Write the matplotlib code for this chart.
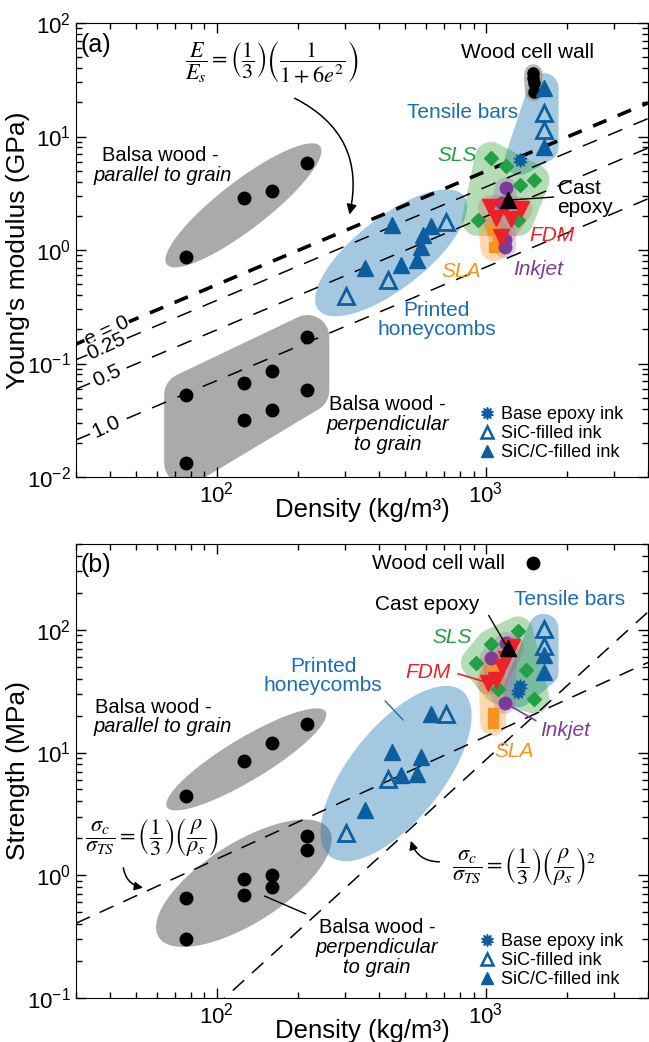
import numpy as np
import matplotlib
matplotlib.use("Agg")
import matplotlib.pyplot as plt
from matplotlib.lines import Line2D
from matplotlib.patches import Polygon
from matplotlib.ticker import NullFormatter

plt.rcParams['font.family'] = ['Liberation Sans', 'DejaVu Sans']

# ---------------- panel (a): Young's modulus (GPa) vs density (kg/m3)
balsa_rho = [77, 126, 160, 217]
balsa_par_E = [0.87, 2.9, 3.3, 5.9]
balsa_perp_rho = [77, 77, 126, 126, 160, 160, 217, 217]
balsa_perp_E = [0.053, 0.0133, 0.067, 0.032, 0.086, 0.039, 0.171, 0.058]
hc_open_rho = [302, 431, 712]
hc_open_E = [0.39, 0.54, 1.76]
hc_fill_rho = [355, 447, 485, 556, 575, 586, 627]
hc_fill_E = [0.69, 1.66, 0.74, 0.82, 1.06, 1.36, 1.63]
tb_open_rho = [1637, 1637]
tb_open_E = [16.1, 11.4]
tb_fill_rho = [1637, 1637]
tb_fill_E = [26.7, 8.07]
tb_base_rho = [1334]
tb_base_E = [6.2]
wood_rho = [1500, 1495, 1503, 1510]
wood_E = [36, 32.5, 29.6, 24.6]
sls_rho = [1043, 1186, 1503, 1334, 933, 1313]
sls_E = [6.47, 5.5, 4.14, 3.74, 1.84, 1.84]
fdm_rho = [1035, 1175, 1345, 1089, 1236, 1135]
fdm_E = [2.39, 2.39, 2.3, 1.92, 1.88, 1.30]
ink_rho = [1186, 1150, 1175, 1175]
ink_E = [3.5, 2.6, 1.22, 1.06]
sla_rho = [1062, 1075, 1110]
sla_E = [1.5, 1.06, 1.3]
cast_rho = [1205]
cast_E = [2.75]

e_values = [0, 0.25, 0.5, 1.0]
e_labels = ['e = 0', '0.25', '0.5', '1.0']
Es, rho_s = 23.0, 1550.0

# ---------------- panel (b): strength (MPa) vs density (kg/m3)
balsa_par_S = [4.4, 8.6, 12, 17.1]
balsa_perp_S = [0.65, 0.30, 0.94, 0.69, 1.0, 0.80, 2.08, 1.6]
hc_open_S = [2.2, 6.1, 20.6]
hcb_fill_rho = [355, 447, 485, 556, 575, 627]
hcb_fill_S = [3.4, 10.1, 6.6, 6.7, 9.2, 20.6]
tb_open_S = [102, 74]
tb_fill_S = [62.5, 45.5]
tbb_base_rho = [1334, 1320]
tbb_base_S = [35, 31]
woodb_rho = [1500]
woodb_S = [352]
slsb_rho = [1313, 1043, 918, 1405, 1515, 1110]
slsb_S = [97, 76, 54, 47, 27.5, 33]
fdmb_rho = [1190, 1090, 1020, 1250, 1150]
fdmb_S = [58, 39, 37, 72, 50]
inkb_rho = [1186, 1043, 1175]
inkb_S = [78, 59, 25.4]
slab_rho = [1050, 1060, 1065]
slab_S = [50, 21, 17.4]
castb_S = [71]
sigma_ts = 63.0

BLUE = '#0d5e9f'
TBLUE = '#1b6db3'
GREEN = '#22a046'
RED = '#ec2227'
PURPLE = '#7b3c97'
ORANGE = '#f7941d'
GRAY = '#aaaaaa'


def convex_hull(p):
    p = sorted(map(tuple, p))

    def cross(o, a, b):
        return (a[0] - o[0]) * (b[1] - o[1]) - (a[1] - o[1]) * (b[0] - o[0])
    lower, upper = [], []
    for q in p:
        while len(lower) >= 2 and cross(lower[-2], lower[-1], q) <= 0:
            lower.pop()
        lower.append(q)
    for q in reversed(p):
        while len(upper) >= 2 and cross(upper[-2], upper[-1], q) <= 0:
            upper.pop()
        upper.append(q)
    return np.array(lower[:-1] + upper[:-1])


def region(ax, xs, ys, pad, color, alpha, z=1):
    # rounded hull around a group of points, padded in pixels
    pts = ax.transData.transform(np.column_stack([xs, ys]))
    t = np.linspace(0, 2 * np.pi, 48, endpoint=False)
    circ = np.column_stack([np.cos(t), np.sin(t)]) * pad
    allp = (pts[:, None, :] + circ[None, :, :]).reshape(-1, 2)
    verts = ax.transData.inverted().transform(convex_hull(allp))
    ax.add_patch(Polygon(verts, closed=True, fc=color, ec='none', alpha=alpha, zorder=z))


def ellipse_region(ax, xs, ys, pad_a, pad_b, color, alpha, z=1):
    # ellipse along the principal direction of a group, padded in pixels
    pts = ax.transData.transform(np.column_stack([xs, ys]))
    c = pts.mean(axis=0)
    _, vec = np.linalg.eigh(np.cov((pts - c).T))
    v1, v2 = vec[:, 1], vec[:, 0]
    p1, p2 = (pts - c) @ v1, (pts - c) @ v2
    cen = c + v1 * (p1.min() + p1.max()) / 2 + v2 * (p2.min() + p2.max()) / 2
    a = (p1.max() - p1.min()) / 2 + pad_a
    b = (p2.max() - p2.min()) / 2 + pad_b
    t = np.linspace(0, 2 * np.pi, 120)
    ell = cen + np.outer(a * np.cos(t), v1) + np.outer(b * np.sin(t), v2)
    verts = ax.transData.inverted().transform(ell)
    ax.add_patch(Polygon(verts, closed=True, fc=color, ec='none', alpha=alpha, zorder=z))


def style_axes(ax, ylim, ylabel):
    ax.set_xscale('log')
    ax.set_yscale('log')
    ax.set_xlim(30, 4000)
    ax.set_ylim(*ylim)
    ax.tick_params(which='both', direction='in', top=True, right=True, labelsize=16, width=1)
    ax.tick_params(which='major', length=7)
    ax.tick_params(which='minor', length=4)
    ax.xaxis.set_minor_formatter(NullFormatter())
    ax.yaxis.set_minor_formatter(NullFormatter())
    ax.set_xlabel('Density (kg/m³)', fontsize=18.5, labelpad=-7)
    ax.set_ylabel(ylabel, fontsize=19, labelpad=-2)


def legend(ax, anchor):
    h = [Line2D([], [], ls='none', marker=(10, 1, 0), ms=9, color=BLUE),
         Line2D([], [], ls='none', marker='^', ms=9, mfc='none', mec=BLUE, mew=1.8),
         Line2D([], [], ls='none', marker='^', ms=9, color=BLUE)]
    ax.legend(h, ['Base epoxy ink', 'SiC-filled ink', 'SiC/C-filled ink'], loc='lower left',
              bbox_to_anchor=anchor, frameon=False, fontsize=13, handlelength=0.8,
              handletextpad=0.4, labelspacing=0.1, borderaxespad=0, borderpad=0)


fig = plt.figure(figsize=(6.49, 10.42), dpi=100)
ax = fig.add_axes([76 / 649, 1 - 477 / 1042, 572 / 649, 454 / 1042])
bx = fig.add_axes([76 / 649, 1 - 998 / 1042, 572 / 649, 454 / 1042])

# ======================= panel (a)
style_axes(ax, (0.01, 100), "Young's modulus (GPa)")

ellipse_region(ax, balsa_rho, balsa_par_E, 20, 18, GRAY, 1)
region(ax, balsa_perp_rho, balsa_perp_E, 22, GRAY, 1)
ellipse_region(ax, hc_open_rho + hc_fill_rho, hc_open_E + hc_fill_E, 30, 14, '#1f77b4', 0.4)
region(ax, tb_open_rho + tb_fill_rho + tb_base_rho, tb_open_E + tb_fill_E + tb_base_E, 15, '#1f77b4', 0.4)
region(ax, wood_rho, wood_E, 9, '#888888', 0.6)
region(ax, sls_rho, sls_E, 16, '#2ca02c', 0.35)
region(ax, sla_rho, sla_E, 14, ORANGE, 0.35)
region(ax, fdm_rho, fdm_E, 12, RED, 0.2)
region(ax, ink_rho, ink_E, 11, '#9467bd', 0.3)

rho_line = np.array([30, 4000])
for e, lab in zip(e_values, e_labels):
    E_line = Es / 3 * (rho_line / rho_s) / (1 + 6 * e ** 2)
    if e == 0:
        ax.plot(rho_line, E_line, color='k', lw=2.6, dashes=(4, 3.4), zorder=2)
    else:
        ax.plot(rho_line, E_line, color='k', lw=1.1, dashes=(10, 8), zorder=2)
    ax.text(39, Es / 3 * (39 / rho_s) / (1 + 6 * e ** 2), lab, fontsize=15, rotation=25,
            ha='center', va='center', zorder=4,
            bbox=dict(fc='white', ec='none', pad=0.5))

ax.plot(balsa_rho, balsa_par_E, 'o', color='k', ms=9, zorder=5)
ax.plot(balsa_perp_rho, balsa_perp_E, 'o', color='k', ms=9, zorder=5)
ax.plot(wood_rho, wood_E, 'o', color='k', ms=8, zorder=5)
ax.plot(sls_rho, sls_E, 'D', color=GREEN, ms=7.5, zorder=5)
ax.plot(sla_rho, sla_E, 's', color=ORANGE, ms=7, zorder=5)
ax.plot(ink_rho, ink_E, 'o', color=PURPLE, ms=9, zorder=5)
ax.plot(fdm_rho, fdm_E, 'v', color=RED, ms=11, zorder=6)
ax.plot(hc_fill_rho, hc_fill_E, '^', color=BLUE, ms=11, zorder=5)
ax.plot(hc_open_rho, hc_open_E, '^', mfc='none', mec=BLUE, mew=2, ms=11, zorder=5)
ax.plot(tb_fill_rho, tb_fill_E, '^', color=BLUE, ms=11, zorder=5)
ax.plot(tb_open_rho, tb_open_E, '^', mfc='none', mec=BLUE, mew=2, ms=11, zorder=5)
ax.plot(tb_base_rho, tb_base_E, marker=(10, 1, 0), ls='none', color=BLUE, ms=10, zorder=5)
ax.plot(cast_rho, cast_E, '^', color='k', ms=11, zorder=7)

T = ax.transAxes
ax.text(0.007, 0.952, '(a)', transform=T, fontsize=18, ha='left', va='center')
ax.text(0.79, 0.936, 'Wood cell wall', transform=T, fontsize=15, ha='center', va='center')
ax.text(0.675, 0.802, 'Tensile bars', transform=T, fontsize=15, ha='center', va='center', color=TBLUE)
ax.text(0.666, 0.709, 'SLS', transform=T, fontsize=15, ha='center', va='center', color=GREEN, style='italic')
ax.text(0.842, 0.615, 'Cast\nepoxy', transform=T, fontsize=15, ha='left', va='center', linespacing=1.0)
ax.annotate('', xy=(cast_rho[0], cast_E[0]), xytext=(0.84, 0.617), textcoords='axes fraction',
            arrowprops=dict(arrowstyle='-', lw=1, color='k'), zorder=7)
ax.text(0.832, 0.531, 'FDM', transform=T, fontsize=15, ha='center', va='center', color=RED, style='italic')
ax.text(0.673, 0.452, 'SLA', transform=T, fontsize=15, ha='center', va='center', color=ORANGE, style='italic')
ax.text(0.808, 0.458, 'Inkjet', transform=T, fontsize=15, ha='center', va='center', color=PURPLE, style='italic')
ax.text(0.631, 0.346, 'Printed\nhoneycombs', transform=T, fontsize=15, ha='center', va='center',
        color=TBLUE, linespacing=1.05)
ax.text(0.147, 0.709, 'Balsa wood -', transform=T, fontsize=14.5, ha='center', va='center')
ax.text(0.152, 0.665, 'parallel to grain', transform=T, fontsize=14.5, ha='center', va='center', style='italic')
ax.text(0.545, 0.159, 'Balsa wood -', transform=T, fontsize=14.5, ha='center', va='center')
ax.text(0.545, 0.115, 'perpendicular', transform=T, fontsize=14.5, ha='center', va='center', style='italic')
ax.text(0.545, 0.071, 'to grain', transform=T, fontsize=14.5, ha='center', va='center', style='italic')
ax.text(0.343, 0.914, r'$\dfrac{E}{E_s}=\left(\dfrac{1}{3}\right)\left(\dfrac{1}{1+6e^2}\right)$',
        transform=T, fontsize=16, ha='center', va='center', math_fontfamily='stix')
ax.annotate('', xy=(0.477, 0.572), xytext=(0.378, 0.837), xycoords='axes fraction',
            textcoords='axes fraction',
            arrowprops=dict(arrowstyle='-|>,head_length=0.6,head_width=0.3', lw=1.1, color='k',
                            connectionstyle='arc3,rad=-0.4'))
legend(ax, (0.706, 0.035))

# ======================= panel (b)
style_axes(bx, (0.1, 500), 'Strength (MPa)')

ellipse_region(bx, balsa_rho, balsa_par_S, 22, 20, GRAY, 1)
ellipse_region(bx, balsa_perp_rho, balsa_perp_S, 22, 22, GRAY, 1)
ellipse_region(bx, hc_open_rho + hcb_fill_rho, hc_open_S + hcb_fill_S, 28, 30, '#1f77b4', 0.4)
region(bx, tb_open_rho + tb_fill_rho + tbb_base_rho, tb_open_S + tb_fill_S + tbb_base_S, 15, '#1f77b4', 0.4)
region(bx, slsb_rho, slsb_S, 15, '#2ca02c', 0.35)
region(bx, slab_rho, slab_S, 13, ORANGE, 0.35)
region(bx, fdmb_rho, fdmb_S, 12, RED, 0.2)
region(bx, inkb_rho, inkb_S, 11, '#9467bd', 0.3)

for n in (1, 2):
    bx.plot(rho_line, sigma_ts / 3 * (rho_line / rho_s) ** n, color='k', lw=1.1,
            dashes=(10, 7), zorder=2)

bx.plot(balsa_rho, balsa_par_S, 'o', color='k', ms=9, zorder=5)
bx.plot(balsa_perp_rho, balsa_perp_S, 'o', color='k', ms=9, zorder=5)
bx.plot(woodb_rho, woodb_S, 'o', color='k', ms=9, zorder=5)
bx.plot(slsb_rho, slsb_S, 'D', color=GREEN, ms=7.5, zorder=5)
bx.plot(slab_rho, slab_S, 's', color=ORANGE, ms=7, zorder=5)
bx.plot(inkb_rho, inkb_S, 'o', color=PURPLE, ms=9, zorder=5)
bx.plot(fdmb_rho, fdmb_S, 'v', color=RED, ms=11, zorder=6)
bx.plot(hcb_fill_rho, hcb_fill_S, '^', color=BLUE, ms=11, zorder=5)
bx.plot(hc_open_rho, hc_open_S, '^', mfc='none', mec=BLUE, mew=2, ms=11, zorder=5)
bx.plot(tb_fill_rho, tb_fill_S, '^', color=BLUE, ms=11, zorder=5)
bx.plot(tb_open_rho, tb_open_S, '^', mfc='none', mec=BLUE, mew=2, ms=11, zorder=5)
bx.plot(tbb_base_rho, tbb_base_S, marker=(10, 1, 0), ls='none', color=BLUE, ms=10, zorder=5)
bx.plot(cast_rho, castb_S, '^', color='k', ms=11, zorder=7)

T = bx.transAxes
bx.text(0.007, 0.954, '(b)', transform=T, fontsize=18, ha='left', va='center')
bx.text(0.75, 0.958, 'Wood cell wall', transform=T, fontsize=15, ha='right', va='center')
bx.text(0.614, 0.866, 'Cast epoxy', transform=T, fontsize=15, ha='center', va='center')
bx.annotate('', xy=(cast_rho[0], castb_S[0]), xytext=(0.719, 0.848), textcoords='axes fraction',
            arrowprops=dict(arrowstyle='-', lw=1, color='k'), zorder=7)
bx.text(0.862, 0.877, 'Tensile bars', transform=T, fontsize=15, ha='center', va='center', color=TBLUE)
bx.text(0.657, 0.795, 'SLS', transform=T, fontsize=15, ha='center', va='center', color=GREEN, style='italic')
bx.text(0.615, 0.718, 'FDM', transform=T, fontsize=15, ha='center', va='center', color=RED, style='italic')
bx.annotate('', xy=(fdmb_rho[2], fdmb_S[2]), xytext=(0.663, 0.716), textcoords='axes fraction',
            arrowprops=dict(arrowstyle='-', lw=1.2, color=RED), zorder=7)
bx.text(0.855, 0.590, 'Inkjet', transform=T, fontsize=15, ha='center', va='center', color=PURPLE, style='italic')
bx.annotate('', xy=(inkb_rho[2], inkb_S[2]), xytext=(0.808, 0.608), textcoords='axes fraction',
            arrowprops=dict(arrowstyle='-', lw=1.2, color=PURPLE), zorder=7)
bx.text(0.766, 0.542, 'SLA', transform=T, fontsize=15, ha='center', va='center', color=ORANGE, style='italic')
bx.text(0.432, 0.709, 'Printed\nhoneycombs', transform=T, fontsize=15, ha='center', va='center',
        color=TBLUE, linespacing=1.05)
bx.annotate('', xy=(0.575, 0.608), xytext=(0.537, 0.659), xycoords='axes fraction',
            textcoords='axes fraction', arrowprops=dict(arrowstyle='-', lw=1, color=TBLUE))
bx.text(0.135, 0.639, 'Balsa wood -', transform=T, fontsize=14.5, ha='center', va='center')
bx.text(0.152, 0.597, 'parallel to grain', transform=T, fontsize=14.5, ha='center', va='center', style='italic')
bx.text(0.526, 0.156, 'Balsa wood -', transform=T, fontsize=14.5, ha='center', va='center')
bx.text(0.526, 0.112, 'perpendicular', transform=T, fontsize=14.5, ha='center', va='center', style='italic')
bx.text(0.526, 0.068, 'to grain', transform=T, fontsize=14.5, ha='center', va='center', style='italic')
bx.annotate('', xy=(0.325, 0.227), xytext=(0.406, 0.183), xycoords='axes fraction',
            textcoords='axes fraction', arrowprops=dict(arrowstyle='-', lw=1, color='k'))
bx.text(0.133, 0.355, r'$\dfrac{\sigma_c}{\sigma_{TS}}=\left(\dfrac{1}{3}\right)\left(\dfrac{\rho}{\rho_s}\right)$',
        transform=T, fontsize=16, ha='center', va='center', math_fontfamily='stix')
bx.annotate('', xy=(0.122, 0.242), xytext=(0.082, 0.293), xycoords='axes fraction',
            textcoords='axes fraction',
            arrowprops=dict(arrowstyle='-|>,head_length=0.5,head_width=0.25', lw=1.1, color='k',
                            connectionstyle='arc3,rad=0.4'))
bx.text(0.783, 0.291, r'$\dfrac{\sigma_c}{\sigma_{TS}}=\left(\dfrac{1}{3}\right)\left(\dfrac{\rho}{\rho_s}\right)^2$',
        transform=T, fontsize=16, ha='center', va='center', math_fontfamily='stix')
bx.annotate('', xy=(0.584, 0.352), xytext=(0.640, 0.300), xycoords='axes fraction',
            textcoords='axes fraction',
            arrowprops=dict(arrowstyle='-|>,head_length=0.5,head_width=0.25', lw=1.1, color='k',
                            connectionstyle='arc3,rad=-0.4'))
legend(bx, (0.706, 0.022))

fig.savefig('out.png', dpi=100)
